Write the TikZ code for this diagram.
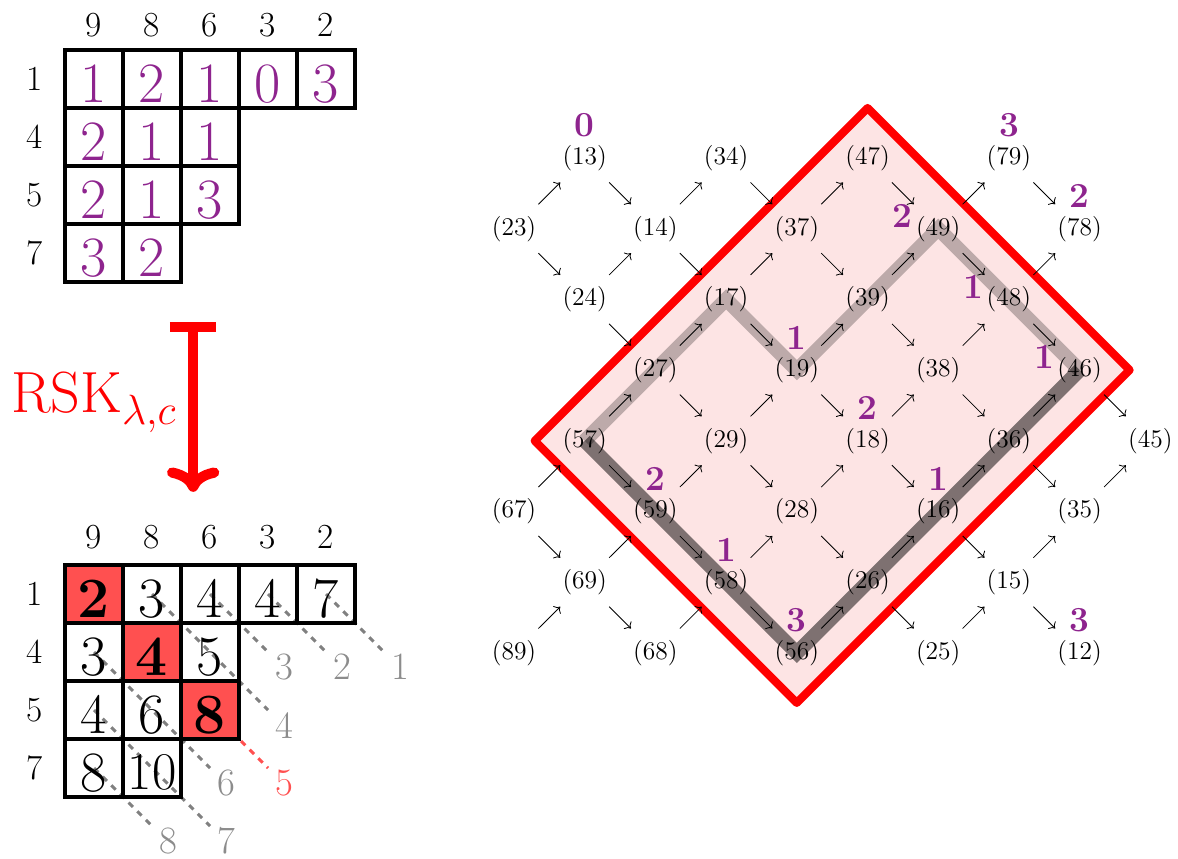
\documentclass[tikz,border=0pt]{standalone}
\usetikzlibrary{arrows.meta,calc,backgrounds}

\definecolor{entrypurple}{RGB}{142,36,142}
\definecolor{boxred}{RGB}{255,80,80}
\definecolor{palered}{RGB}{253,228,228}

\tikzset{
  cellbox/.style={draw=black, line width=1.8pt},
  entry/.style={font=\fontsize{28}{30}\selectfont, inner sep=0pt},
  hdr/.style={font=\LARGE, inner sep=0pt},
  pt/.style={font=\fontsize{12.5}{14}\selectfont, inner sep=2pt},
  wt/.style={font=\LARGE\bfseries, text=entrypurple, inner sep=0pt},
  arr/.style={->, thin, shorten <=5pt, shorten >=5pt},
  diagline/.style={dashed, line width=1.5pt, gray},
  diaglbl/.style={font=\fontsize{19}{21}\selectfont, text=black!45, inner sep=0pt},
}

\begin{document}
\begin{tikzpicture}
  \useasboundingbox (0,0) rectangle (20.31,-14.81);

  % weights of the input shape
  \begin{scope}[shift={(1.121,-0.862)}]
    \foreach \c/\h in {1/9,2/8,3/6,4/3,5/2}
      \node[hdr] (ta-h\c) at (\c-0.5, 0.43) {\h};
    \foreach \r/\h in {1/1,2/4,3/5,4/7}
      \node[hdr] (ta-r\r) at (-0.52, -\r+0.5) {\h};
    \foreach \r/\len in {1/5,2/3,3/3,4/2}
      \foreach \c in {1,...,\len}
        \draw[cellbox] (\c-1, -\r+1) rectangle (\c, -\r);
    \foreach \r/\c/\v in {1/1/1, 1/2/2, 1/3/1, 1/4/0, 1/5/3,
                          2/1/2, 2/2/1, 2/3/1,
                          3/1/2, 3/2/1, 3/3/3,
                          4/1/3, 4/2/2}
      \node[entry, text=entrypurple] (ta-\r\c) at (\c-0.5, -\r+0.42) {\v};
  \end{scope}

  % the map
  \coordinate (rsk-top) at (3.33,-5.55);
  \coordinate (rsk-bot) at (3.33,-8.48);
  \draw[red, line width=5pt,
        {Bar[width=0.8cm]}-{Computer Modern Rightarrow[width=0.9cm, length=0.42cm]}]
    (rsk-top) -- (rsk-bot);
  \node[red, font=\fontsize{28.5}{30}\selectfont, inner sep=0pt, anchor=base east]
    (rsk) at (3.05,-7.12) {RSK$_{\lambda,c}$};

  % output tableau
  \begin{scope}[shift={(1.121,-9.741)}]
    \foreach \lab/\si/\sj/\len in {1/1/5/0, 2/1/4/0, 3/1/3/0, 4/1/2/1,
                                   6/2/1/1, 7/3/1/1, 8/4/1/0} {
      \draw[diagline] (\sj-0.5, -\si+0.5) -- (\sj+0.5+\len, -\si-0.5-\len);
      \node[diaglbl] (tb-d\lab) at (\sj+0.78+\len, -\si-0.76-\len) {\lab};
    }
    \draw[diagline, boxred] (0.5,-0.5) -- (3.5,-3.5);
    \node[diaglbl, text=boxred] (tb-d5) at (3.78,-3.76) {5};
    \foreach \c in {1,2,3}
      \fill[boxred] (\c-1, -\c+1) rectangle (\c, -\c);
    \foreach \c/\h in {1/9,2/8,3/6,4/3,5/2}
      \node[hdr] (tb-h\c) at (\c-0.5, 0.48) {\h};
    \foreach \r/\h in {1/1,2/4,3/5,4/7}
      \node[hdr] (tb-r\r) at (-0.52, -\r+0.5) {\h};
    \foreach \r/\len in {1/5,2/3,3/3,4/2}
      \foreach \c in {1,...,\len}
        \draw[cellbox] (\c-1, -\r+1) rectangle (\c, -\r);
    \foreach \r/\c/\v in {1/2/3, 1/3/4, 1/4/4, 1/5/7,
                          2/1/3, 2/3/5,
                          3/1/4, 3/2/6,
                          4/1/8}
      \node[entry] (tb-\r\c) at (\c-0.5, -\r+0.42) {\v};
    \node[entry, font=\fontsize{26}{28}\selectfont] (tb-42) at (1.5, -3.58) {10};
    \foreach \c/\v in {1/2, 2/4, 3/8}
      \node[entry, font=\fontsize{28}{30}\selectfont\bfseries] (tb-\c\c) at (\c-0.5, -\c+0.42) {\v};
  \end{scope}

  % lattice of pairs
  \begin{scope}[xshift=8.862cm, yshift=-2.724cm, x=1.219cm, y=-1.219cm]
    \foreach \lab/\c/\r in {13/1/0, 34/3/0, 47/5/0, 79/7/0,
                            23/0/1, 14/2/1, 37/4/1, 49/6/1, 78/8/1,
                            24/1/2, 17/3/2, 39/5/2, 48/7/2,
                            27/2/3, 19/4/3, 38/6/3, 46/8/3,
                            57/1/4, 29/3/4, 18/5/4, 36/7/4, 45/9/4,
                            67/0/5, 59/2/5, 28/4/5, 16/6/5, 35/8/5,
                            69/1/6, 58/3/6, 26/5/6, 15/7/6,
                            89/0/7, 68/2/7, 56/4/7, 25/6/7, 12/8/7}
      \node[pt] (p\lab) at (\c,\r) {(\lab)};

    \begin{pgfonlayer}{background}
      \filldraw[fill=palered, draw=red, line width=4pt, line join=round]
        (5,-0.707) -- (8.707,3) -- (4,7.707) -- (0.293,4) -- cycle;
      \draw[line width=7pt, black, opacity=0.25]
        (p57.center) -- (p27.center) -- (p17.center) -- (p19.center) --
        (p39.center) -- (p49.center) -- (p48.center) -- (p46.center);
      \draw[line width=7pt, black, opacity=0.5]
        (p57.center) -- (p59.center) -- (p58.center) -- (p56.center) --
        (p26.center) -- (p16.center) -- (p36.center) -- (p46.center);
    \end{pgfonlayer}

    \foreach \a/\b in {23/13, 23/24, 67/57, 67/69, 89/69,
                       13/14, 24/14, 24/27, 57/27, 57/59, 69/59, 69/68,
                       14/34, 14/17, 27/17, 27/29, 59/29, 59/58, 68/58,
                       34/37, 17/37, 17/19, 29/19, 29/28, 58/28, 58/56,
                       37/47, 37/39, 19/39, 19/18, 28/18, 28/26, 56/26,
                       47/49, 39/49, 39/38, 18/38, 18/16, 26/16, 26/25,
                       49/79, 49/48, 38/48, 38/36, 16/36, 16/15, 25/15,
                       79/78, 48/78, 48/46, 36/46, 36/35, 15/35, 15/12,
                       46/45, 35/45}
      \draw[arr] (p\a) -- (p\b);

    \foreach \lab/\v in {13/0, 79/3, 78/2, 19/1, 18/2, 16/1, 12/3, 59/2, 58/1, 56/3}
      \node[wt] (w\lab) at ($(p\lab)+(0,-0.46)$) {\v};
    \foreach \lab/\v in {49/2, 48/1, 46/1}
      \node[wt] (w\lab) at ($(p\lab)+(-0.5,-0.18)$) {\v};
  \end{scope}
\end{tikzpicture}
\end{document}
